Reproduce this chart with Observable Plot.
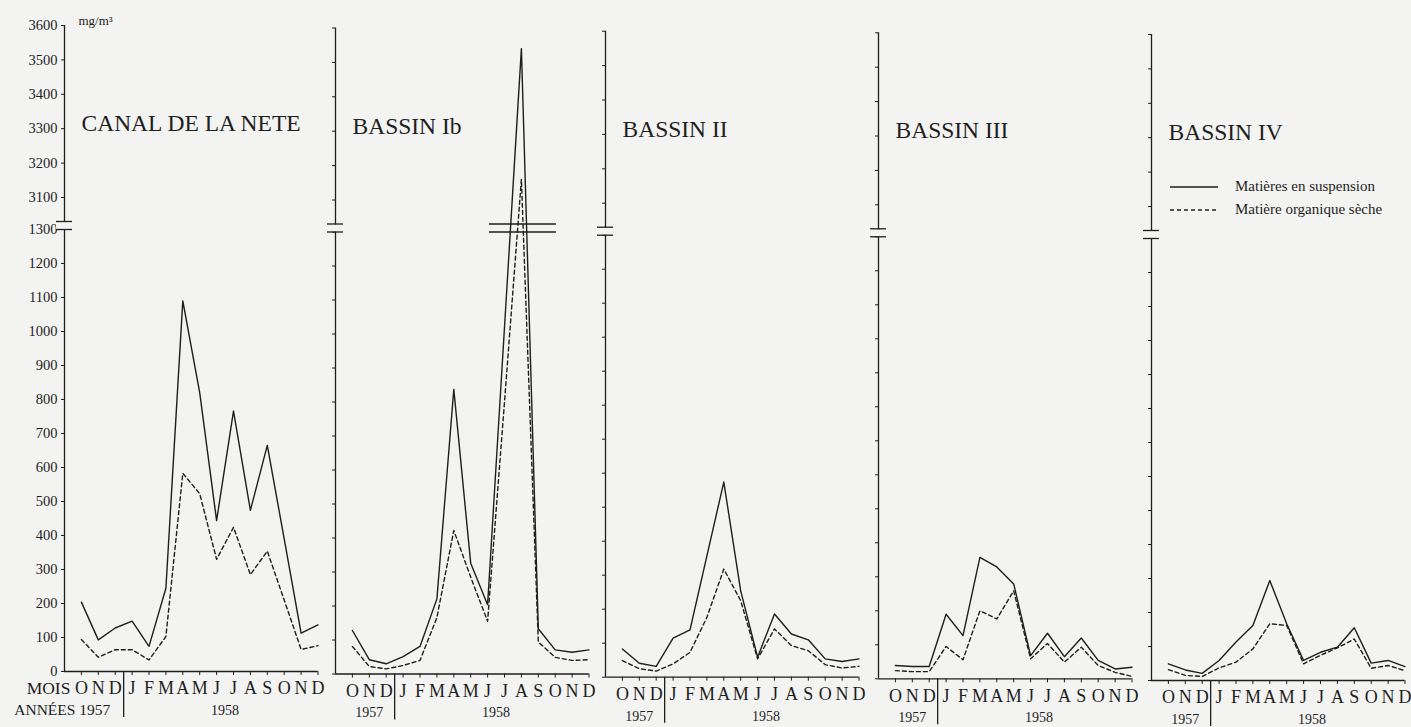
<!DOCTYPE html>
<html>
<head>
<meta charset="utf-8">
<script src="https://cdn.jsdelivr.net/npm/d3@7"></script>
<script src="https://cdn.jsdelivr.net/npm/@observablehq/plot@0.6"></script>
<style>
  body { margin: 0; background: #f3f3f1; }
  #wrap { position: relative; width: 1411px; height: 727px; overflow: hidden;
          font-family: "Liberation Serif", "DejaVu Serif", serif; color: #1e1e1e; }
  .panel { position: absolute; top: 0; }
  .panel text { font-family: "Liberation Serif", "DejaVu Serif", serif; }
  .leg { position: absolute; font-size: 15px; line-height: 1; white-space: nowrap; }
  .legline { position: absolute; }
</style>
</head>
<body>
<div id="wrap"></div>
<script>
// ---- data (mg/m³), months Oct 1957 -> Dec 1958 ----
const months = ["O","N","D","J","F","M","A","M","J","J","A","S","O","N","D"];
const yTicks = [0,100,200,300,400,500,600,700,800,900,1000,1100,1200,1300,3100,3200,3300,3400,3500,3600];
const panelNames = ["CANAL DE LA NETE", "BASSIN Ib", "BASSIN II", "BASSIN III", "BASSIN IV"];
const seriesNames = ["Matières en suspension", "Matière organique sèche"];

const canalSusp = [204, 93, 128, 148, 74, 245, 1090, 820, 444, 766, 474, 665, 390, 113, 137];
const canalOrg  = [94, 42, 64, 64, 34, 103, 583, 523, 330, 424, 285, 354, 210, 65, 76];
const ibSusp    = [128, 42, 30, 51, 81, 221, 837, 326, 204, 1020, 3540, 133, 71, 64, 71];
const ibOrg     = [81, 22, 15, 25, 40, 166, 422, 285, 155, 800, 3160, 94, 49, 40, 42];
const iiSusp    = [83, 41, 32, 115, 139, 357, 574, 254, 59, 186, 127, 110, 54, 46, 54];
const iiOrg     = [49, 25, 18, 39, 73, 176, 318, 225, 54, 142, 93, 78, 37, 27, 32];
const iiiSusp   = [39, 36, 36, 190, 127, 357, 329, 279, 68, 134, 65, 120, 54, 29, 34];
const iiiOrg    = [24, 21, 21, 95, 56, 200, 176, 259, 59, 104, 49, 93, 39, 19, 7];
const ivSusp    = [49, 31, 21, 59, 113, 162, 294, 167, 59, 83, 98, 155, 51, 59, 41];
const ivOrg     = [32, 15, 12, 37, 54, 93, 167, 162, 49, 74, 96, 122, 36, 44, 29];

const suspAll = [canalSusp, ibSusp, iiSusp, iiiSusp, ivSusp];
const orgAll  = [canalOrg, ibOrg, iiOrg, iiiOrg, ivOrg];

// ---- layout ----
const axisXpos = [64, 335, 605, 878, 1151];
const baseYpos = [671, 673.5, 676.7, 678.3, 680];
const step = 16.9;
const ink = "#1e1e1e";
const bg = "#f3f3f1";
const serif = "'Liberation Serif', 'DejaVu Serif', serif";
const wrap = document.getElementById("wrap");

panelNames.forEach((name, i) => {
  const L = axisXpos[i] - 64;
  const W = Math.min(350, 1411 - L);
  const by = baseYpos[i];
  const rows = months.map((m, j) => ({j, susp: suspAll[i][j], org: orgAll[i][j]}));
  const brk = {x1: -1, x2: -1, insetLeft: -8, insetRight: -8};

  const marks = [
    // axis lines
    Plot.ruleX([-1], {y1: 0, y2: 3600, stroke: ink, strokeWidth: 1.3}),
    Plot.ruleY([0], {x1: -1, x2: 14, stroke: ink, strokeWidth: 1.3}),
    Plot.axisY(yTicks, {anchor: "left", tickSize: 3, tickPadding: 4, label: null,
      tickFormat: i === 0 ? (d => String(d)) : (() => ""), fontSize: 14.5,
      fontFamily: serif, stroke: ink, fill: ink}),
    Plot.axisX(d3.range(15), {anchor: "bottom", tickSize: 4, tickPadding: 6, label: null,
      tickFormat: j => months[j], fontSize: 18, fontFamily: serif, stroke: ink, fill: ink}),
    // axis break
    Plot.ruleY([1300], {...brk, dy: -4, stroke: bg, strokeWidth: 7}),
    Plot.ruleY([1300], {...brk, stroke: ink, strokeWidth: 1.3}),
    Plot.ruleY([1300], {...brk, dy: -8, stroke: ink, strokeWidth: 1.3}),
    // series
    Plot.line(rows, {x: "j", y: "susp", stroke: ink, strokeWidth: 1.4}),
    Plot.line(rows, {x: "j", y: "org", stroke: ink, strokeWidth: 1.4, strokeDasharray: "4,3"}),
    // year separator and labels
    Plot.ruleX([2.5], {y1: 0, y2: 0, insetBottom: -46, stroke: ink, strokeWidth: 1.3}),
    Plot.text(["1958"], {x: 8.5, y: 0, dy: 39, text: d => d, fontSize: 14, fontFamily: serif, fill: ink}),
    // title
    Plot.text([name], {frameAnchor: "top-left", text: d => d, dx: 17, dy: by - 548,
      textAnchor: "start", lineAnchor: "middle", fontSize: 23.5, fontFamily: serif, fill: ink})
  ];
  if (i === 0) {
    marks.push(
      Plot.text(["ANNÉES 1957"], {x: 1, y: 0, dy: 39, dx: 12, text: d => d, textAnchor: "end", fontSize: 15.5, fontFamily: serif, fill: ink}),
      Plot.text(["MOIS"], {x: 0, y: 0, dy: 17, dx: -11, text: d => d, textAnchor: "end", fontSize: 17.5, fontFamily: serif, fill: ink}),
      Plot.text(["mg/m³"], {x: -1, y: 3600, dx: 14, dy: -5, text: d => d, textAnchor: "start", fontSize: 13, fontFamily: serif, fill: ink})
    );
  } else {
    marks.push(Plot.text(["1957"], {x: 1, y: 0, dy: 39, text: d => d, fontSize: 14, fontFamily: serif, fill: ink}));
  }
  if (i === 1) {
    const wide = {x1: 10, x2: 10, insetLeft: -32, insetRight: -35};
    marks.push(
      Plot.ruleY([1300], {...wide, stroke: ink, strokeWidth: 1.3}),
      Plot.ruleY([1300], {...wide, dy: -8, stroke: ink, strokeWidth: 1.3})
    );
  }

  const chart = Plot.plot({
    width: W,
    height: 727,
    marginLeft: 64,
    marginRight: W - (64 + 15 * step),
    marginTop: 0,
    marginBottom: 727 - by,
    style: {background: "transparent", overflow: "visible", fontFamily: serif, color: ink},
    x: {type: "linear", domain: [-1, 14], range: [64, 64 + 15 * step], axis: null},
    y: {type: "linear", domain: [0, 1300, 3100, 3600], range: [by, by - 442, by - 474, by - 646], axis: null},
    marks
  });
  chart.classList.add("panel");
  chart.style.left = L + "px";
  wrap.appendChild(chart);
});

// ---- legend ----
const legY = [187, 210];
seriesNames.forEach((s, k) => {
  const svg = document.createElementNS("http://www.w3.org/2000/svg", "svg");
  svg.setAttribute("width", 50); svg.setAttribute("height", 6);
  svg.setAttribute("class", "legline");
  svg.style.left = "1170px"; svg.style.top = (legY[k] - 3) + "px";
  const ln = document.createElementNS("http://www.w3.org/2000/svg", "line");
  ln.setAttribute("x1", 0); ln.setAttribute("x2", 48);
  ln.setAttribute("y1", 3); ln.setAttribute("y2", 3);
  ln.setAttribute("stroke", ink); ln.setAttribute("stroke-width", 1.3);
  if (k === 1) ln.setAttribute("stroke-dasharray", "4,3");
  svg.appendChild(ln);
  wrap.appendChild(svg);
  const t = document.createElement("div");
  t.className = "leg";
  t.textContent = s;
  t.style.left = "1235px"; t.style.top = (legY[k] - 8) + "px";
  wrap.appendChild(t);
});
</script>
</body>
</html>
